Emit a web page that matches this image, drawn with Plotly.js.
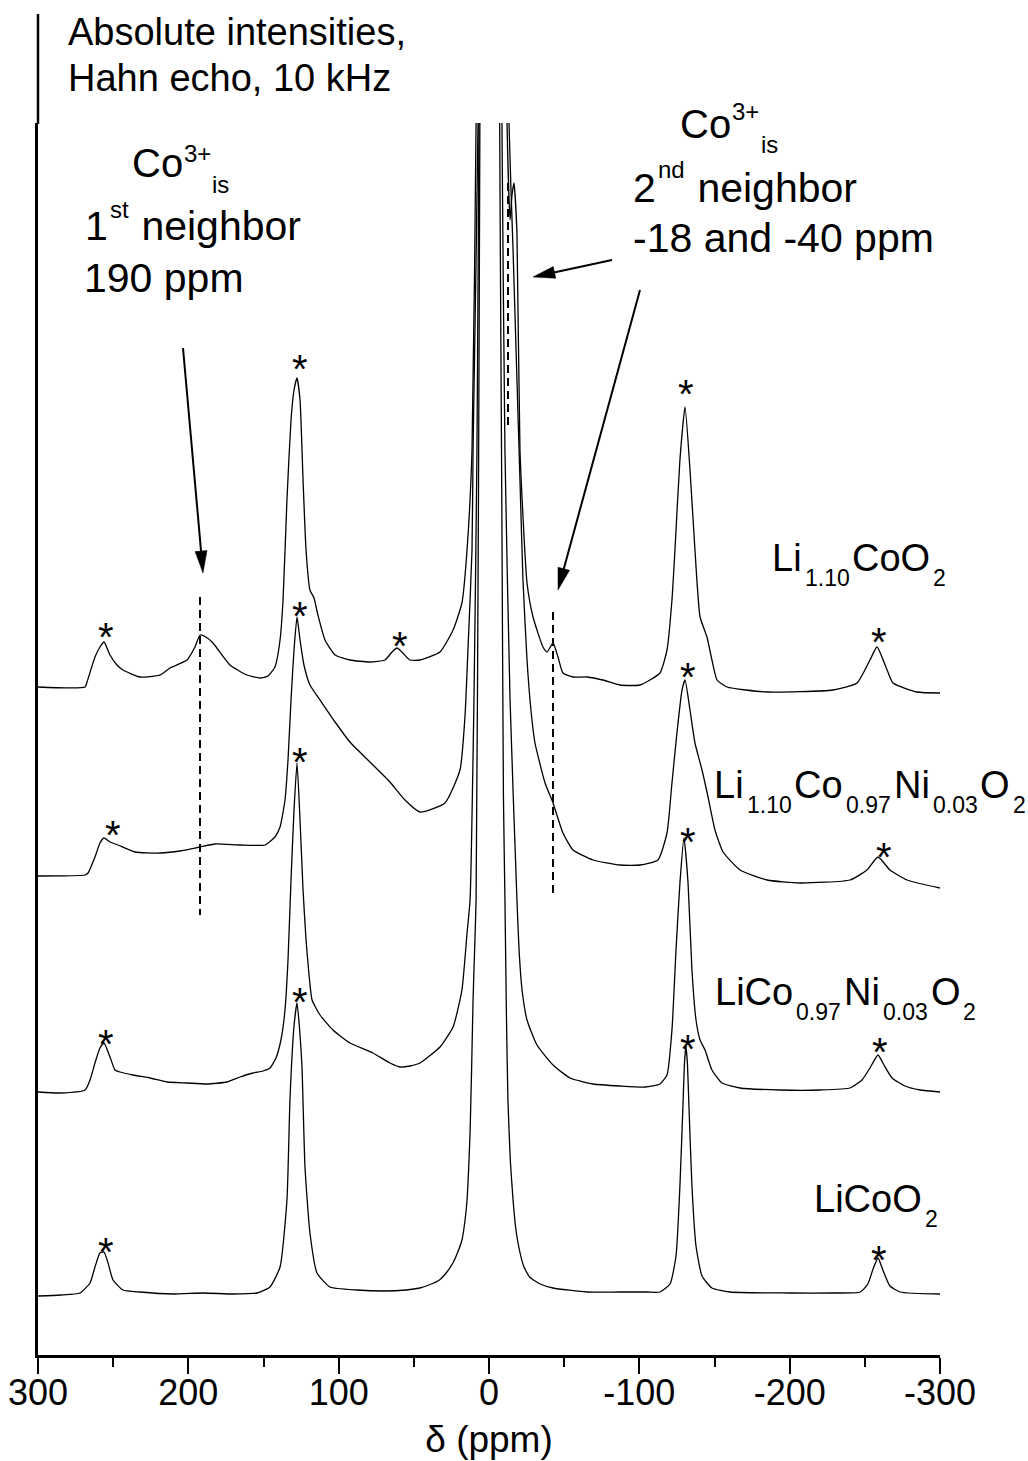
<!DOCTYPE html>
<html><head><meta charset="utf-8">
<script src="https://cdn.plot.ly/plotly-3.0.1.min.js"></script>
<style>html,body{margin:0;padding:0;background:#fff}</style>
</head><body><div id="chart" style="width:1028px;height:1461px"></div>
<script>
// ---------------- DATA (chemical shift in ppm, intensity above each spectrum's own baseline) ----------------
const sampleNames = [
  [['Li',''],['1.10','sub'],['CoO',''],['2','sub']],
  [['Li',''],['1.10','sub'],['Co',''],['0.97','sub'],['Ni',''],['0.03','sub'],['O',''],['2','sub']],
  [['LiCo',''],['0.97','sub'],['Ni',''],['0.03','sub'],['O',''],['2','sub']],
  [['LiCoO',''],['2','sub']]
];
const stackOffsets = [668, 479, 263, 59];

const ppmLi110CoO2 = [300,268.7,267.4,262.1,258.8,256.1,252.1,247.5,243.5,232.2,218.8,212.2,200.9,195.6,192.2,188.3,183.6,172.3,161.0,152.3,147.0,142.4,139.0,137.0,134.4,131.7,129.7,127.7,125.7,123.7,121.7,119.1,116.4,113.8,109.1,102.4,92.5,79.2,69.2,64.5,61.2,57.9,52.6,45.9,32.6,23.9,18.0,14.6,11.3,8.6,3,-1,-5,-12.0,-14.0,-15.3,-16.6,-18.6,-20.6,-25.3,-29.3,-35.9,-38.6,-42.6,-45.9,-49.2,-55.9,-65.2,-75.8,-87.1,-100.4,-113.7,-118.4,-121.7,-123.7,-127.0,-130.4,-133.7,-137.0,-140.4,-145.0,-148.3,-151.7,-158.3,-184.9,-228.8,-244.8,-253.4,-258.1,-264.8,-268.7,-284.7,-300];
const intLi110CoO2 = [0,0,5,30,40,45,32,22,17,10,12,19,27,40,52,50,44,22,12,9,11,20,47,87,187,267,297,309,287,207,137,97,89,72,47,32,27,25,27,35,39,35,27,27,35,57,84,137,237,564,2000,3000,2000,564,467,492,504,454,237,104,70,40,35,44,30,14,10,10,7,2,2,14,37,87,137,227,280,217,137,70,50,27,7,0,-5,-3,4,27,40,17,4,-5,-6];

const ppmLi110CoNi = [300,268.7,266.7,262.1,258.8,256.1,252.1,246.8,235.5,218.8,205.5,192.2,182.3,165.6,149.0,142.4,139.0,135.7,133.7,131.7,129.7,127.7,125.7,123.1,119.1,112.4,102.4,92.5,79.2,65.9,55.9,45.9,29.3,19.3,16.0,14.0,11.3,10.6,7.3,3,-1,-5,-13.3,-16.0,-18.6,-20.6,-22.6,-25.3,-27.9,-30.6,-37.3,-42.6,-49.2,-55.9,-69.2,-87.1,-100.4,-112.4,-118.4,-121.7,-125.0,-128.4,-130.4,-133.7,-137.0,-141.7,-145.7,-150.3,-155.7,-167.0,-185.0,-206.9,-240.1,-251.4,-258.8,-266.7,-278.1,-300];
const intLi110CoNi = [0,1,3,19,33,38,34,31,24,23,25,29,32,31,31,39,49,76,116,176,226,259,236,211,191,176,154,134,114,94,76,64,73,106,159,226,326,426,753,2000,3500,2000,753,626,496,396,296,216,166,133,93,73,43,26,16,11,11,16,43,93,143,186,196,166,133,106,79,46,24,6,-4,-7,-4,6,19,6,-4,-12];

const ppmLiCoNi = [300,285.4,268.7,265.4,262.1,258.8,256.1,252.1,248.8,245.5,236.8,225.5,214.2,200.9,187.6,174.3,165.6,157.0,150.3,145.7,141.7,138.4,135.7,133.7,131.7,129.7,127.7,125.7,123.7,121.7,119.7,117.7,112.4,103.8,92.5,77.2,65.9,59.2,52.6,45.9,32.6,23.9,18.0,14.6,12.6,10.0,8.0,6.7,4,0,-4,-8.6,-10.6,-14.0,-18.6,-20.0,-22.0,-25.3,-31.9,-42.6,-53.9,-69.2,-87.1,-103.8,-113.7,-118.4,-121.7,-124.4,-127.0,-129.7,-132.4,-135.0,-137.7,-140.4,-143.7,-148.3,-155.0,-167.0,-193.6,-220.2,-240.1,-248.1,-253.4,-258.8,-262.7,-268.1,-276.7,-286.7,-300];
const intLiCoNi = [0,-1,2,12,29,44,49,35,22,20,17,14,10,9,8,10,15,19,21,24,34,52,82,132,212,282,329,272,202,152,117,92,77,62,49,39,29,25,26,29,45,65,102,159,192,392,642,969,2000,3500,2000,969,642,392,192,142,102,72,47,27,14,8,6,5,8,17,62,142,209,254,209,122,72,52,42,22,9,4,2,2,4,12,24,37,27,14,6,2,0];

const ppmLiCoO2 = [300,285,272.1,265.4,262.1,258.8,256.1,253.4,250.1,243.5,232.2,210,190,170,154.3,145.7,139.0,134.4,132.4,129.7,127.7,125.9,124.4,122.4,119.1,114.4,105.8,87.8,70,55,46,40,33,28,24,21,18,16,14.6,13.6,12.6,11.6,10.6,9.6,8.6,7,6,3,-1,-5,-7,-8.5,-9.6,-10.6,-11.6,-12.6,-14.2,-16,-17.6,-19.3,-23,-27,-34,-42.6,-65,-87,-105,-113.7,-120.4,-124.4,-127,-129,-130,-131,-132,-133,-135,-137.7,-141.7,-148.3,-160.3,-200,-230,-247,-252,-255.7,-258.8,-262,-266.7,-273.4,-300];
const intLiCoO2 = [0,1,3,13,29,43,44,33,16,6,4,2,3,2,3,9,29,96,196,270,293,265,229,129,63,23,9,6,5,6,8,11,16,24,33,43,56,75,96,125,163,225,296,345,396,800,1200,2500,4000,2500,1200,800,500,396,280,196,135,96,70,53,30,19,12,8,4,4,4,4,12,40,110,190,232,250,232,190,110,50,20,8,4,3,3,4,12,28,38,26,10,4,2];

const tickVals = [300,200,100,0,-100,-200,-300];
const tickText = ['300','200','100','0','-100','-200','-300'];
const minorTickVals = [250,150,50,-50,-150,-250];

// ---------------- FIGURE ----------------
const FONT = 'Arial, "Liberation Sans", sans-serif';
const PL = 38, PR = 940, PT = 123, PB = 1355;
const fx = px => (px - PL) / (PR - PL);
const fy = py => (PB - py) / (PB - PT);
const ctx = document.createElement('canvas').getContext('2d');
const textW = (t, size) => { ctx.font = size + 'px ' + FONT; return ctx.measureText(t).width; };

const spectra = [[ppmLi110CoO2, intLi110CoO2],[ppmLi110CoNi, intLi110CoNi],[ppmLiCoNi, intLiCoNi],[ppmLiCoO2, intLiCoO2]];
const traces = spectra.map((s, i) => ({
  type:'scatter', mode:'lines', x:s[0], y:s[1].map(v => v + stackOffsets[i]),
  line:{color:'#000', width:1.3, shape:'spline', smoothing:0.5}, hoverinfo:'skip', showlegend:false
}));

function label(text, left, baseline, size){
  return {text, xref:'paper', yref:'paper', x:fx(left), y:fy(baseline - 0.3465*size),
    xanchor:'left', yanchor:'middle', showarrow:false, borderpad:0, borderwidth:0,
    font:{family:FONT, size, color:'#000'}};
}
// rich text built from pieces: [text, role] with role '', 'sub' or 'sup'
function rich(parts, left, baseline, size, small, supDy, subDy, gap){
  let x = left; const out = [];
  for (const [t, role] of parts){
    const s = role ? small : size;
    const bl = role === 'sub' ? baseline + subDy : role === 'sup' ? baseline - supDy : baseline;
    out.push(label(t, x, bl, s));
    x += textW(t, s) + (gap || 0);
  }
  return out;
}
function star(cx, cy){
  return {text:'*', xref:'paper', yref:'paper', x:fx(cx), y:fy(cy + 9),
    xanchor:'center', yanchor:'middle', showarrow:false, borderpad:0, borderwidth:0,
    font:{family:FONT, size:40, color:'#000'}};
}
function seg(x0,y0,x1,y1,w,dash){
  return {type:'line', xref:'paper', yref:'paper', x0:fx(x0), y0:fy(y0), x1:fx(x1), y1:fy(y1),
    line:{color:'#000', width:w, dash:dash||'solid'}};
}
function arrow(tx,ty,hx,hy){
  const dx=hx-tx, dy=hy-ty, L=Math.hypot(dx,dy), ux=dx/L, uy=dy/L;
  const HL=22, HW=6, bx=hx-ux*HL, by=hy-uy*HL, nx=-uy, ny=ux;
  return [seg(tx,ty,bx+ux*3,by+uy*3,2),
    {type:'path', xref:'paper', yref:'paper', fillcolor:'#000', line:{color:'#000', width:0.5},
     path:`M${fx(hx)},${fy(hy)} L${fx(bx+nx*HW)},${fy(by+ny*HW)} L${fx(bx-nx*HW)},${fy(by-ny*HW)} Z`}];
}

const annotations = [
  label('Absolute intensities,', 68, 45, 38),
  label('Hahn echo, 10 kHz', 68, 91, 38),
  ...rich([['Co',''],['3+','sup']], 132, 177, 40, 24, 15, 16, 1),
  label('is', 212, 193, 24),
  ...rich([['1',''],['st','sup'],[' neighbor','']], 85, 240, 41, 24, 22, 0, 2),
  label('190 ppm', 84, 292, 41),
  ...rich([['Co',''],['3+','sup']], 680, 138, 40, 24, 18, 15, 1),
  label('is', 761, 153, 24),
  ...rich([['2',''],['nd','sup'],[' neighbor','']], 633, 202, 41, 24, 24, 0, 2),
  label('-18 and -40 ppm', 633, 252, 41),
  ...rich(sampleNames[0], 772, 571, 38, 23, 0, 15, 3),
  ...rich(sampleNames[1], 714, 798, 38, 23, 0, 15, 3),
  ...rich(sampleNames[2], 715, 1005, 38, 23, 0, 15, 3),
  ...rich(sampleNames[3], 814, 1212, 38, 23, 0, 15, 3),
  star(106,628), star(300,360), star(400,637), star(686,385), star(879,633),
  star(113,826), star(300,607), star(688,668), star(884,848),
  star(106,1035), star(300,753), star(688,833), star(880,1043),
  star(106,1243), star(300,993), star(688,1040), star(879,1251)
];

const shapes = [
  seg(38,14,38,124,2.5),
  seg(200,597,200,915,2,'8px,5px'),
  seg(553,612,553,895,2,'8px,5px'),
  seg(508,183,508,425,2,'8px,5px'),
  ...arrow(183,348,203,573),
  ...arrow(612,260,533,277),
  ...arrow(640,290,558,590)
];

const layout = {
  width:1028, height:1461,
  margin:{l:PL, r:1028-PR, t:PT, b:1461-PB, pad:0},
  paper_bgcolor:'#fff', plot_bgcolor:'#fff',
  font:{family:FONT, color:'#000'},
  showlegend:false,
  xaxis:{range:[300,-300], tickmode:'array', tickvals:tickVals, ticktext:tickText,
    ticks:'outside', ticklen:16, tickwidth:2, tickcolor:'#000', ticklabelstandoff:-12,
    minor:{tickmode:'array', tickvals:minorTickVals, ticks:'outside', ticklen:9, tickwidth:2, tickcolor:'#000', showgrid:false},
    showline:true, linecolor:'#000', linewidth:3, showgrid:false, zeroline:false,
    tickfont:{family:FONT, size:36, color:'#000'},
    title:{text:'δ (ppm)', font:{family:FONT, size:37, color:'#000'}, standoff:14}},
  yaxis:{range:[0,1232], showline:true, linecolor:'#000', linewidth:3, showgrid:false, zeroline:false,
    showticklabels:false, ticks:'', title:{text:''}},
  annotations, shapes
};

Plotly.newPlot('chart', traces, layout, {staticPlot:true, displayModeBar:false});
</script>
</body></html>
